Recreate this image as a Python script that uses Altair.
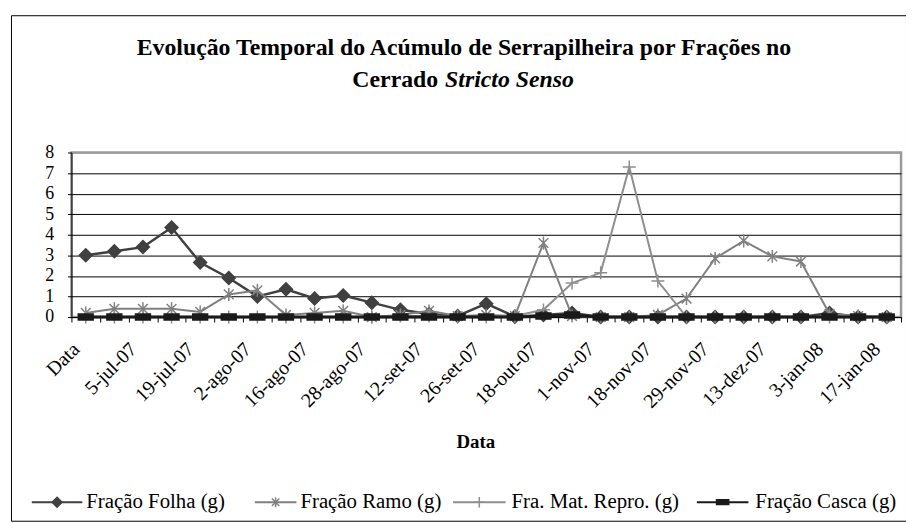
import json
import altair as alt
import pandas as pd

# ---- data ----
tick_labels = ["Data", "5-jul-07", "19-jul-07", "2-ago-07", "16-ago-07", "28-ago-07",
               "12-set-07", "26-set-07", "18-out-07", "1-nov-07", "18-nov-07",
               "29-nov-07", "13-dez-07", "3-jan-08", "17-jan-08"]  # every 2nd category
n_cat = 29
series_names = ["Fração Folha (g)", "Fração Ramo (g)", "Fra. Mat. Repro. (g)", "Fração Casca (g)"]
folha = [3.0, 3.2, 3.4, 4.35, 2.65, 1.9, 1.0, 1.35, 0.9, 1.05, 0.7, 0.35, 0.15, 0.05,
         0.65, 0.02, 0.1, 0.2, 0.0, 0.0, 0.0, 0.0, 0.0, 0.0, 0.0, 0.0, 0.2, 0.0, 0.0]
ramo = [0.2, 0.4, 0.4, 0.4, 0.25, 1.1, 1.3, 0.1, 0.2, 0.3, 0.0, 0.1, 0.3, 0.05,
        0.1, 0.05, 3.6, 0.05, 0.0, 0.0, 0.1, 0.9, 2.85, 3.7, 2.95, 2.7, 0.15, 0.05, 0.0]
repro = [0.0, 0.0, 0.0, 0.0, 0.0, 0.0, 0.0, 0.0, 0.0, 0.0, 0.0, 0.05, 0.05, 0.0,
         0.0, 0.05, 0.35, 1.65, 2.15, 7.3, 1.75, 0.0, 0.0, 0.0, 0.0, 0.0, 0.0, 0.0, 0.0]
casca = [0.0] * 16 + [0.05, 0.1] + [0.0] * 11

values = [folha, ramo, repro, casca]
rows = []
for name, vals in zip(series_names, values):
    for i, v in enumerate(vals):
        rows.append({"idx": i, "serie": name, "valor": v})
df = pd.DataFrame(rows)

# ---- styles ----
FONT = "Liberation Serif"
colors = ["#404040", "#808080", "#8e8e8e", "#1a1a1a"]
line_w = [2.5, 2.0, 2.0, 3.2]
shapes = ["M0,-1L1,0L0,1L-1,0Z",
          "M-0.75,-0.75L0.75,0.75M-0.75,0.75L0.75,-0.75M0,-1L0,1",
          "M-1,0L1,0M0,-1L0,1",
          "M-1,-0.4L1,-0.4L1,0.4L-1,0.4Z"]
filled = [True, False, False, True]
sizes = [170, 170, 170, 225]

W, H = 837, 166
X0, Y0 = 72, 151.5  # page position of plot origin

label_expr = f"datum.value % 2 == 0 ? {json.dumps(tick_labels)}[datum.value / 2] : ''"

x_enc = alt.X("idx:O",
              scale=alt.Scale(type="band", paddingInner=0, paddingOuter=0,
                              domain=list(range(n_cat))),
              bandPosition=0.5,
              axis=alt.Axis(title=None, labelExpr=label_expr, labelAngle=-45,
                            labelAlign="right", labelBaseline="top",
                            labelOffset=-17, labelPadding=17, labelOverlap=False,
                            labelFont=FONT, labelFontSize=20, labelColor="black",
                            tickBand="extent", tickSize=5, tickColor="black",
                            domainColor="black", grid=False, labelBound=False))
y_enc = alt.Y("valor:Q",
              scale=alt.Scale(domain=[0, 8], nice=False),
              axis=alt.Axis(title=None, values=list(range(9)), grid=True,
                            gridColor={"condition": {"test": "datum.value == 8", "value": "#9a9a9a"},
                                       "value": "black"},
                            tickSize=4, tickColor="black", domainColor="black",
                            labelPadding=14, labelFont=FONT, labelFontSize=18,
                            labelColor="black"))

layers = []
for k, name in enumerate(series_names):
    base = alt.Chart(df).transform_filter(alt.datum.serie == name)
    layers.append(base.mark_line(color=colors[k], strokeWidth=line_w[k]).encode(x=x_enc, y=y_enc))
    pt_kwargs = dict(shape=shapes[k], size=sizes[k], stroke=colors[k], strokeWidth=1.5, opacity=1)
    if filled[k]:
        pt_kwargs["fill"] = colors[k]
        pt_kwargs["fillOpacity"] = 1
    else:
        pt_kwargs["fill"] = None
    layers.append(base.mark_point(**pt_kwargs).encode(x=x_enc, y=y_enc))

dummy = pd.DataFrame({"a": [0]})

# outer chart border
layers.append(alt.Chart(dummy).mark_rect(fillOpacity=0, stroke="black", strokeWidth=1).encode(
    x=alt.value(11.5 - X0), x2=alt.value(914.5 - X0),
    y=alt.value(13.5 - Y0), y2=alt.value(523.5 - Y0)))

# titles
def txt(s, px, py, size, weight="normal", style="normal", align="center", baseline="alphabetic"):
    return alt.Chart(dummy).mark_text(text=s, font=FONT, fontSize=size, fontWeight=weight,
                                      fontStyle=style, align=align, baseline=baseline,
                                      color="black").encode(
        x=alt.value(px - X0), y=alt.value(py - Y0))

layers.append(txt("Evolução Temporal do Acúmulo de Serrapilheira por Frações no", 468, 53, 24, "bold"))
layers.append(txt("Cerrado", 442, 85, 24, "bold", align="right"))
layers.append(txt("Stricto Senso", 449, 85, 24, "bold", "italic", align="left"))
layers.append(txt("Data", 480, 444, 19, "bold", baseline="middle"))

# legend
leg_y = 504.3
leg_line = [(32, 83), (257, 299), (457, 510), (703, 755)]
leg_text_x = [87, 303, 516, 762]
leg_sizes = [100, 100, 110, 150]
for k, name in enumerate(series_names):
    a, b = leg_line[k]
    layers.append(alt.Chart(dummy).mark_rule(color=colors[k], strokeWidth=2).encode(
        x=alt.value(a - X0), x2=alt.value(b - X0), y=alt.value(leg_y - Y0)))
    pk = dict(shape=shapes[k], size=leg_sizes[k], stroke=colors[k], strokeWidth=1.5, opacity=1)
    if filled[k]:
        pk["fill"] = colors[k]
        pk["fillOpacity"] = 1
    else:
        pk["fill"] = None
    layers.append(alt.Chart(dummy).mark_point(**pk).encode(
        x=alt.value((a + b) / 2 - X0), y=alt.value(leg_y - Y0)))
    layers.append(txt(name, leg_text_x[k], leg_y, 21, align="left", baseline="middle"))

chart = alt.layer(*layers).properties(
    width=W, height=H,
    padding={"left": X0 - 8, "top": Y0 - 8, "right": 5, "bottom": 205},
    autosize=alt.AutoSizeParams(type="none"),
    background="white",
).configure_view(stroke="#9a9a9a", strokeWidth=2.5
).configure_axis(labelFont=FONT, titleFont=FONT, labelColor="black"
).configure_text(font=FONT)

chart.save("out.html", embed_options={"renderer": "svg", "actions": False})
